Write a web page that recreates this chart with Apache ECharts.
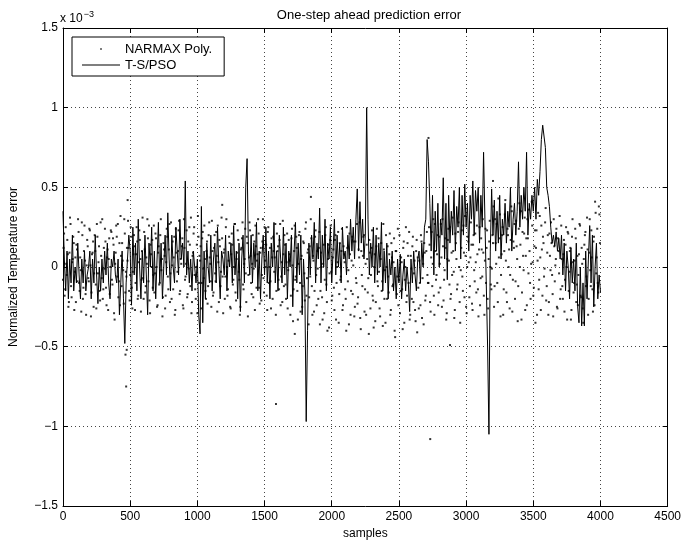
<!DOCTYPE html>
<html>
<head>
<meta charset="utf-8">
<script src="https://cdn.jsdelivr.net/npm/echarts@6/dist/echarts.min.js"></script>
<style>html,body{margin:0;padding:0;background:#fff}#c{width:684px;height:545px}</style>
</head>
<body>
<div id="c"></div>
<script>
// Values in units of 1e-3 (axis shows "x 10^-3")
const xTicks = [0, 500, 1000, 1500, 2000, 2500, 3000, 3500, 4000, 4500];
const yTicks = [-1.5, -1, -0.5, 0, 0.5, 1, 1.5];

// T-S/PSO one-step error, sampled every 10 samples from 0 to 4000
const tsStart = 0, tsStep = 10;
const tsValues = [
 0.35, 0.05, -0.15, 0.1, -0.2, 0.05, -0.1, 0.2, -0.15, 0.0,
 -0.1, 0.15, -0.05, -0.2, 0.05, -0.1, 0.1, -0.15, -0.05, 0.0,
 0.1, -0.2, 0.05, -0.1, 0.2, -0.05, -0.23, 0.0, -0.15, 0.05,
 -0.1, 0.1, -0.05, 0.15, -0.1, -0.2, 0.05, 0.0, 0.1, -0.05,
 -0.1, 0.05, -0.3, -0.1, 0.1, -0.2, -0.48, -0.1, 0.05, 0.2,
 0.1, -0.24, 0.25, -0.05, 0.15, -0.15, 0.3, 0.0, -0.2, 0.1,
 -0.1, 0.2, -0.05, -0.3, 0.15, 0.0, 0.25, -0.15, 0.1, -0.2,
 0.05, 0.28, -0.1, 0.15, -0.2, 0.0, 0.2, -0.05, 0.34, 0.05,
 -0.15, 0.2, 0.0, -0.1, 0.25, 0.1, -0.05, 0.3, 0.05, 0.15,
 0.0, 0.54, -0.05, 0.1, -0.1, 0.05, -0.15, 0.1, 0.0, -0.1,
 0.05, -0.3, -0.42, 0.38, -0.35, 0.1, -0.2, 0.15, 0.0, -0.1,
 0.2, -0.15, 0.05, 0.15, -0.1, 0.25, 0.0, -0.2, 0.1, 0.05,
 -0.05, 0.2, -0.15, 0.1, 0.0, 0.15, -0.1, 0.26, -0.05, 0.1,
 -0.2, 0.15, -0.28, 0.05, 0.2, -0.1, 0.5, 0.68, 0.1, -0.05,
 0.2, -0.1, 0.15, 0.0, 0.28, -0.15, 0.1, -0.2, 0.05, 0.2,
 -0.05, 0.25, -0.1, 0.1, -0.2, 0.15, 0.0, 0.28, -0.1, 0.1,
 -0.15, 0.2, 0.05, -0.1, 0.25, -0.05, 0.15, -0.2, 0.1, 0.0,
 0.2, -0.25, 0.1, 0.28, -0.1, 0.15, -0.05, 0.2, -0.3, 0.05,
 -0.15, -0.97, -0.4, 0.15, -0.05, 0.2, 0.05, 0.28, -0.1, 0.15,
 0.05, 0.37, -0.1, 0.2, 0.0, 0.3, -0.15, 0.15, 0.05, 0.25,
 -0.1, 0.1, 0.3, -0.05, 0.2, 0.0, 0.15, -0.1, 0.25, 0.05,
 0.1, -0.05, 0.2, 0.05, 0.3, 0.1, 0.25, 0.05, 0.3, 0.49,
 0.1, 0.41, 0.15, 0.3, 0.05, 0.2, 1.0, 0.3, -0.05, 0.15,
 0.0, 0.25, -0.1, 0.2, -0.05, 0.15, 0.0, 0.28, -0.15, 0.1,
 -0.1, 0.15, -0.2, 0.05, -0.05, 0.1, -0.15, 0.0, -0.2, 0.05,
 -0.1, 0.08, -0.2, -0.05, 0.05, -0.15, 0.0, -0.1, -0.28, 0.05,
 -0.1, 0.1, -0.05, -0.15, 0.05, 0.1, -0.1, 0.15, 0.0, 0.25,
 0.3, 0.8, 0.66, 0.4, 0.1, 0.45, -0.05, 0.35, 0.1, 0.4,
 0.0, 0.3, 0.2, 0.56, 0.05, 0.4, -0.08, 0.45, 0.15, 0.35,
 0.2, 0.48, 0.1, 0.38, 0.25, 0.5, 0.05, 0.45, 0.2, 0.52,
 0.25, 0.4, 0.1, 0.45, 0.3, 0.54, 0.2, 0.48, 0.35, 0.5,
 0.15, 0.45, 0.25, 0.72, 0.3, -0.1, -0.5, -1.05, 0.1, 0.49,
 0.2, 0.42, 0.1, 0.35, 0.15, 0.45, 0.05, 0.3, 0.2, 0.4,
 0.15, 0.35, 0.25, 0.5, 0.1, 0.3, 0.4, 0.2, 0.35, 0.66,
 0.25, 0.45, 0.3, 0.5, 0.35, 0.72, 0.2, 0.4, 0.3, 0.45,
 0.35, 0.5, 0.3, 0.55, 0.45, 0.6, 0.8, 0.89, 0.88, 0.75,
 0.5, 0.45, 0.38, 0.25, 0.15, 0.2, 0.13, 0.22, 0.1, 0.18,
 0.05, 0.2, -0.05, 0.15, -0.15, 0.1, 0.0, -0.2, 0.12, -0.1,
 0.05, -0.15, 0.15, -0.25, -0.35, 0.0, -0.37, -0.1, -0.37, 0.1,
 -0.2, 0.05, 0.26, -0.1, 0.2, -0.25, 0.0, 0.15, -0.2, -0.05,
 -0.16
];

// NARMAX Poly. one-step error, first set: every 8 samples starting at 4
const nxStartA = 4, nxStepA = 8;
const nxValuesA = [
 0.12, -0.18, 0.25, -0.05, 0.08, -0.22, 0.31, -0.12, 0.03, 0.19,
 -0.27, 0.06, 0.14, -0.09, 0.22, -0.15, -0.02, 0.28, -0.2, 0.1,
 0.04, -0.3, 0.17, -0.07, 0.24, 0.01, -0.16, 0.09, -0.25, 0.2,
 -0.11, 0.27, -0.04, 0.13, -0.21, 0.07, 0.3, -0.14, -0.01, 0.16,
 -0.24, 0.11, 0.05, -0.17, 0.23, -0.08, 0.18, -0.29, 0.02, 0.26,
 -0.06, -0.19, 0.15, 0.32, -0.12, 0.04, -0.23, 0.21, -0.03, 0.12,
 0.29, -0.15, -0.05, 0.19, -0.26, 0.08, 0.13, -0.1, 0.25, -0.2,
 0.03, 0.17, -0.28, 0.1, -0.07, 0.22, -0.16, 0.06, 0.3, -0.09,
 -0.21, 0.14, 0.0, -0.13, 0.26, -0.04, 0.18, -0.25, 0.09, -0.11,
 0.2, -0.02, -0.31, 0.15, 0.07, -0.18, 0.24, -0.06, 0.11, -0.22,
 0.28, 0.01, -0.14, 0.19, -0.27, 0.09, -0.03, 0.23, -0.17, 0.05,
 0.13, -0.24, 0.3, -0.08, 0.02, -0.19, 0.16, 0.25, -0.12, -0.29,
 0.07, 0.21, -0.05, -0.2, 0.14, 0.32, -0.1, 0.04, -0.26, 0.18,
 -0.01, 0.26, -0.15, 0.1, -0.23, 0.2, 0.06, -0.09, 0.29, -0.18,
 0.12, -0.04, 0.22, -0.28, 0.03, 0.17, -0.12, 0.31, -0.06, 0.09,
 -0.2, 0.25, 0.0, -0.14, 0.19, -0.25, 0.08, 0.14, -0.08, 0.27,
 -0.16, 0.05, 0.23, -0.03, -0.3, 0.11, 0.18, -0.11, 0.02, 0.24,
 -0.22, 0.15, -0.05, 0.28, 0.07, -0.17, 0.2, -0.01, -0.27, 0.13,
 0.04, 0.3, -0.13, 0.09, -0.21, 0.16, -0.07, 0.25, 0.0, -0.18,
 0.22, -0.1, 0.12, -0.26, 0.06, 0.19, -0.03, 0.27, -0.15, 0.1,
 -0.08, 0.17, -0.24, 0.03, 0.29, -0.12, 0.14, -0.2, 0.21, -0.02,
 0.08, -0.3, 0.18, 0.01, -0.14, 0.26, -0.06, 0.12, -0.33, 0.2,
 -0.1, 0.05, -0.25, 0.16, -0.04, 0.24, -0.18, 0.09, -0.36, 0.13,
 0.3, -0.12, 0.07, -0.28, 0.19, -0.05, 0.1, -0.2, 0.22, -0.15,
 0.0, -0.33, 0.14, -0.08, 0.25, -0.22, 0.05, -0.38, 0.17, -0.03,
 -0.18, 0.11, -0.27, 0.2, -0.1, 0.03, -0.35, 0.15, -0.06, 0.24,
 -0.24, 0.08, -0.14, -0.4, 0.12, -0.02, 0.21, -0.3, 0.04, -0.17,
 0.16, -0.25, -0.07, 0.27, -0.19, 0.06, -0.32, 0.1, -0.12, 0.19,
 -0.28, 0.02, 0.14, -0.16, -0.42, 0.09, -0.05, 0.23, -0.21, 0.0,
 -0.34, 0.13, -0.09, 0.18, -0.26, 0.05, -0.15, -0.37, 0.11, -0.02,
 0.2, -0.2, -0.06, 0.08, -0.3, 0.15, -0.12, 0.03, -0.4, 0.1,
 -0.17, 0.24, -0.08, -0.29, 0.06, -0.14, 0.12, -0.35, 0.0, -0.22,
 0.15, -0.1, -0.33, 0.07, -0.2, 0.19, -0.04, -0.27, 0.1, -0.41,
 -0.13, 0.04, -0.24, 0.16, -0.07, -0.36, 0.09, -0.18, 0.22, -0.1,
 0.25, -0.22, 0.06, -0.12, 0.3, -0.3, 0.1, -0.05, 0.2, -0.16,
 0.02, 0.27, -0.25, 0.13, -0.08, 0.18, -0.33, 0.05, 0.24, -0.11,
 -0.2, 0.09, 0.31, -0.03, -0.27, 0.15, -0.14, 0.22, 0.0, -0.35,
 0.12, -0.06, 0.26, -0.19, 0.07, -0.29, 0.19, 0.03, -0.12, 0.28,
 -0.23, 0.14, -0.02, 0.21, -0.16, 0.08, -0.31, 0.25, -0.07, 0.11,
 0.3, -0.18, 0.04, -0.1, 0.23, -0.26, 0.16, 0.0, -0.14, 0.2,
 0.38, -0.12, 0.15, 0.27, -0.22, 0.06, 0.33, -0.05, 0.2, -0.3,
 0.1, 0.42, -0.16, 0.24, 0.0, -0.26, 0.17, 0.35, -0.08, 0.12,
 -0.2, 0.29, 0.05, -0.12, 0.4, 0.14, -0.33, 0.22, -0.02, 0.31,
 0.07, -0.24, 0.18, 0.36, -0.1, 0.02, 0.26, -0.18, 0.13, -0.35,
 0.23, 0.04, -0.14, 0.32, -0.27, 0.11, 0.19, -0.06, 0.28, -0.21,
 0.09, -0.3, 0.21, -0.02, 0.15, -0.17, 0.3, -0.09, 0.05, -0.25,
 0.18, -0.04, -0.2, 0.26, -0.12, 0.08, -0.28, 0.14, 0.0, 0.22,
 -0.15, 0.1, -0.33, 0.19, 0.03, -0.1, 0.24, -0.22, 0.07, -0.05,
 0.27, -0.18, 0.12, -0.26, 0.05, 0.2, -0.12, 0.31, -0.3, 0.09,
 -0.02, 0.23, -0.14, 0.16, -0.24, 0.34, 0.06, -0.1, 0.38, 0.15
];

// NARMAX Poly. second set: every 8 samples starting at 0
const nxStartB = 0, nxStepB = 8;
const nxValuesB = [
 -0.08, 0.21, -0.14, 0.02, 0.17, -0.25, 0.09, 0.27, -0.19, 0.05,
 0.15, -0.03, -0.22, 0.11, 0.3, -0.1, 0.06, -0.28, 0.2, -0.13,
 0.26, -0.17, 0.01, 0.13, -0.09, 0.23, -0.31, 0.08, 0.16, -0.04,
 0.1, -0.26, 0.19, 0.03, -0.15, 0.28, -0.07, -0.2, 0.12, 0.24,
 -0.13, 0.06, -0.27, 0.18, 0.0, 0.22, -0.11, 0.14, -0.33, 0.09,
 0.19, 0.27, -0.09, -0.24, 0.07, 0.15, -0.02, 0.3, -0.16, -0.06,
 0.04, 0.12, -0.21, 0.25, -0.13, -0.03, 0.2, -0.27, 0.08, 0.16,
 -0.18, 0.23, 0.05, -0.08, 0.31, -0.2, 0.11, -0.12, 0.02, 0.18,
 0.26, -0.29, 0.08, 0.17, -0.05, -0.16, 0.21, 0.0, -0.24, 0.13,
 -0.1, 0.3, 0.05, -0.19, 0.11, -0.26, 0.03, 0.19, -0.14, 0.27,
 -0.04, -0.2, 0.16, 0.06, -0.3, 0.24, -0.09, 0.1, 0.29, -0.15,
 0.02, 0.18, -0.26, 0.12, -0.06, 0.23, -0.17, -0.01, 0.14, 0.31,
 -0.22, 0.09, 0.25, -0.14, 0.0, -0.29, 0.19, 0.07, 0.13, -0.1,
 0.22, -0.07, 0.05, -0.2, 0.16, -0.12, 0.28, 0.02, -0.25, 0.1,
 -0.16, 0.2, -0.09, 0.07, 0.26, -0.22, 0.13, -0.03, 0.18, -0.29,
 0.11, -0.06, 0.3, -0.18, 0.04, 0.15, -0.26, 0.21, -0.11, 0.0,
 0.27, -0.21, 0.09, 0.17, -0.08, -0.25, 0.12, 0.28, -0.14, 0.05,
 -0.04, 0.19, -0.31, 0.06, 0.23, -0.1, 0.02, -0.19, 0.16, 0.26,
 -0.13, 0.08, 0.21, -0.23, 0.12, -0.05, 0.3, -0.16, 0.04, 0.14,
 -0.27, 0.25, 0.0, -0.09, 0.18, -0.2, 0.1, 0.06, -0.3, 0.21,
 0.13, -0.14, 0.27, -0.06, -0.22, 0.08, 0.2, -0.11, 0.03, -0.26,
 0.17, 0.04, -0.18, 0.24, -0.34, 0.1, -0.08, 0.19, -0.15, 0.02,
 0.22, -0.28, 0.07, -0.12, 0.15, -0.21, 0.28, -0.07, 0.11, -0.19,
 -0.06, 0.18, -0.3, 0.04, -0.15, 0.23, -0.24, -0.01, 0.12, -0.36,
 0.09, -0.19, 0.02, -0.29, 0.2, -0.11, -0.4, 0.14, -0.04, 0.26,
 -0.21, 0.06, -0.13, 0.17, -0.33, 0.0, 0.22, -0.17, -0.08, 0.1,
 -0.27, 0.13, 0.03, -0.2, 0.25, -0.09, -0.36, 0.08, -0.15, 0.19,
 0.01, -0.31, 0.16, -0.1, -0.23, 0.11, 0.28, -0.39, -0.05, 0.07,
 0.2, -0.14, -0.3, 0.05, -0.07, 0.17, -0.26, 0.12, -0.18, -0.38,
 0.08, -0.22, 0.24, -0.12, -0.03, -0.31, 0.15, -0.09, 0.27, -0.2,
 -0.35, 0.0, 0.13, -0.16, 0.21, -0.27, 0.06, -0.11, 0.18, -0.44,
 0.1, -0.06, -0.24, 0.2, -0.15, 0.03, -0.39, 0.16, -0.08, 0.25,
 -0.18, 0.07, 0.22, -0.3, -0.01, 0.13, -0.22, 0.04, -0.34, 0.17,
 0.06, -0.26, -0.1, 0.2, -0.32, 0.02, 0.15, -0.21, 0.1, -0.05,
 -0.1, 0.14, -0.28, 0.22, 0.02, -0.18, 0.27, -0.08, 0.08, -0.24,
 0.19, -0.13, 0.06, 0.3, -0.21, -0.02, 0.12, -0.29, 0.17, 0.04,
 0.25, -0.17, -0.05, 0.1, -0.32, 0.21, 0.05, -0.11, 0.28, -0.22,
 -0.02, 0.23, -0.15, 0.09, 0.32, -0.25, 0.0, 0.16, -0.19, 0.06,
 0.14, -0.27, 0.2, -0.09, 0.03, 0.26, -0.14, 0.11, -0.24, 0.18,
 -0.06, 0.09, -0.3, 0.24, 0.12, -0.2, 0.05, 0.29, -0.11, -0.01,
 0.15, -0.25, 0.3, 0.02, -0.1, 0.43, 0.18, -0.31, 0.08, 0.25,
 -0.14, 0.33, 0.04, -0.22, 0.2, 0.11, -0.05, 0.38, -0.28, 0.16,
 0.27, -0.09, 0.13, -0.34, 0.24, 0.0, 0.35, -0.16, 0.07, 0.21,
 -0.27, 0.18, 0.3, -0.04, 0.1, -0.2, 0.41, 0.03, -0.13, 0.23,
 0.12, -0.3, 0.34, -0.08, 0.06, 0.26, -0.18, 0.15, -0.01, 0.37,
 -0.12, 0.2, -0.22, 0.07, 0.28, -0.05, -0.31, 0.13, 0.01, 0.24,
 -0.26, 0.1, 0.32, -0.14, 0.05, -0.2, 0.17, -0.08, 0.25, -0.33,
 0.21, -0.03, 0.12, -0.27, 0.3, -0.16, 0.04, 0.18, -0.11, -0.24,
 0.08, 0.26, -0.19, 0.02, -0.35, 0.14, 0.22, -0.06, 0.11, -0.2,
 0.3, -0.12, 0.06, -0.28, 0.19, 0.41, -0.04, 0.24, -0.16, 0.33
];

// isolated NARMAX points
const nxOutlierX = [465, 470, 474, 481, 1185, 1585, 1725, 1845, 2720, 2733, 2880, 3200];
const nxOutlierY = [-0.55, -0.75, -0.52, 0.42, 0.39, -0.86, -0.42, 0.44, 0.81, -1.08, -0.49, 0.54];

const seriesNames = ['NARMAX Poly.', 'T-S/PSO'];

const tsData = tsValues.map((v, i) => [tsStart + i * tsStep, v]);
const nxData = nxValuesA.map((v, i) => [nxStartA + i * nxStepA, v])
  .concat(nxValuesB.map((v, i) => [nxStartB + i * nxStepB, v]))
  .concat(nxOutlierX.map((x, i) => [x, nxOutlierY[i]]));

const FONT = 'Liberation Sans, Arial, Helvetica, sans-serif';
const fmtMinus = v => String(v).replace('-', '\u2212');

const chart = echarts.init(document.getElementById('c'), null, {renderer: 'canvas'});
const axisCommon = {
  axisLine: {show: true, onZero: false, lineStyle: {color: '#000', width: 1}},
  axisTick: {show: true, inside: true, length: 5, lineStyle: {color: '#000'}},
};
chart.setOption({
  animation: false,
  backgroundColor: '#fff',
  textStyle: {fontFamily: FONT},
  title: {
    text: 'One-step ahead prediction error',
    left: 364, top: 4, textAlign: 'center',
    textStyle: {fontSize: 13, fontWeight: 'normal', color: '#000', fontFamily: FONT}
  },
  graphic: [{
    type: 'text', left: 60, top: 10,
    style: {
      text: 'x 10{s|\u22123}',
      font: '12px ' + FONT,
      fill: '#000',
      rich: {s: {fontSize: 9, verticalAlign: 'top', padding: [0, 0, 8, 1], fontFamily: FONT}}
    }
  }],
  legend: {
    left: 72, top: 37, orient: 'vertical',
    itemWidth: 38, itemHeight: 14, itemGap: 2,
    padding: [5, 12, 4, 10],
    borderColor: '#000', borderWidth: 1, backgroundColor: '#fff',
    textStyle: {fontSize: 13, color: '#000', fontFamily: FONT},
    data: [
      {name: seriesNames[0], icon: 'path://M0,0 M20,20 M8.8,8.8 h2.4 v2.4 h-2.4 z', itemStyle: {color: '#000'}},
      {name: seriesNames[1], icon: 'path://M0,0 M38,14 M0,6.5 h38 v1 h-38 z', itemStyle: {color: '#000'}}
    ]
  },
  grid: {left: 60, right: 16, top: 28, bottom: 37, containLabel: false},
  xAxis: [
    Object.assign({
      type: 'value', min: xTicks[0], max: xTicks[xTicks.length - 1], interval: 500,
      position: 'bottom',
      name: 'samples', nameLocation: 'middle', nameGap: 22,
      nameTextStyle: {fontSize: 12, color: '#000', fontFamily: FONT},
      axisLabel: {fontSize: 12, color: '#000', margin: 5, fontFamily: FONT, formatter: v => String(v)},
      splitLine: {show: true, lineStyle: {color: '#444', type: [1, 3], width: 1}}
    }, axisCommon),
    Object.assign({
      type: 'value', min: xTicks[0], max: xTicks[xTicks.length - 1], interval: 500,
      position: 'top', axisLabel: {show: false}, splitLine: {show: false}
    }, axisCommon)
  ],
  yAxis: [
    Object.assign({
      type: 'value', min: yTicks[0], max: yTicks[yTicks.length - 1], interval: 0.5,
      position: 'left',
      name: 'Normalized Temperature error', nameLocation: 'middle', nameGap: 43,
      nameTextStyle: {fontSize: 12, color: '#000', fontFamily: FONT},
      axisLabel: {fontSize: 12, color: '#000', margin: 5, fontFamily: FONT, formatter: fmtMinus},
      splitLine: {show: true, lineStyle: {color: '#444', type: [1, 3], width: 1}}
    }, axisCommon),
    Object.assign({
      type: 'value', min: yTicks[0], max: yTicks[yTicks.length - 1], interval: 0.5,
      position: 'right', axisLabel: {show: false}, splitLine: {show: false}
    }, axisCommon)
  ],
  series: [
    {
      name: seriesNames[0], type: 'scatter', data: nxData,
      symbol: 'rect', symbolSize: 2,
      itemStyle: {color: '#000'}, z: 3
    },
    {
      name: seriesNames[1], type: 'line', data: tsData,
      symbol: 'none', showSymbol: false,
      lineStyle: {color: '#000', width: 1}, itemStyle: {color: '#000'},
      z: 2
    }
  ]
});
</script>
</body>
</html>
